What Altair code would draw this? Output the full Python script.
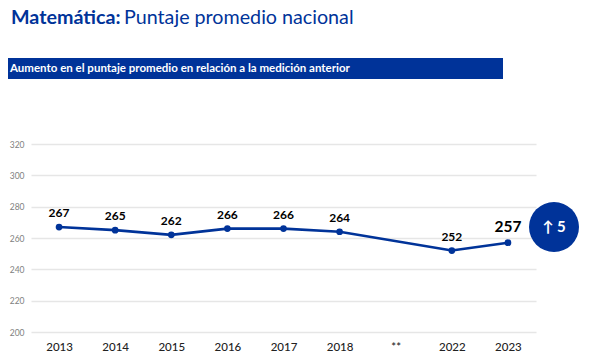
import altair as alt
import pandas as pd

years = ["2013", "2014", "2015", "2016", "2017", "2018", "**", "2022", "2023"]
scores = [267, 265, 262, 266, 266, 264, None, 252, 257]
highlight_year = "2023"
y_ticks = [200, 220, 240, 260, 280, 300, 320]
title_bold = "Matemática:"
title_rest = "Puntaje promedio nacional"
banner_text = "Aumento en el puntaje promedio en relación a la medición anterior"
badge_text = "↑  5"

BLUE = "#003399"
FONT = "Lato"

df = pd.DataFrame({"year": years, "score": scores}).dropna()

x = alt.X(
    "year:N",
    sort=years,
    scale=alt.Scale(domain=years, paddingInner=0, paddingOuter=0.0, align=0.5),
    axis=alt.Axis(
        title=None, labelAngle=0, domain=False, ticks=False, grid=False,
        labelFont=FONT, labelFontSize=11.5, labelColor="#222222",
        labelPadding=9, labelFontWeight=500,
    ),
)
y = alt.Y(
    "score:Q",
    scale=alt.Scale(domain=[200, 320], nice=False, zero=False),
    axis=alt.Axis(
        title=None, values=y_ticks, domain=False, ticks=False, grid=True,
        gridColor="#E6E6E6", gridWidth=1.3, labelFont=FONT, labelFontSize=8.5,
        labelColor="#7F7F7F", labelPadding=7,
    ),
)

base = alt.Chart(df)
line = base.mark_line(color=BLUE, strokeWidth=2.6).encode(x=x, y=y)
points = base.mark_point(filled=True, color=BLUE, size=45, opacity=1).encode(x=x, y=y)
labels = (
    base.transform_filter(alt.datum.year != highlight_year)
    .mark_text(font=FONT, fontSize=12, fontWeight="bold", color="#000000", dy=-14)
    .encode(x=x, y=y, text="score:Q")
)
label_hi = (
    base.transform_filter(alt.datum.year == highlight_year)
    .mark_text(font=FONT, fontSize=15.5, fontWeight="bold", color="#000000", dy=-16)
    .encode(x=x, y=y, text="score:Q")
)

one = pd.DataFrame({"a": [0]})
ann = alt.Chart(one)
t1 = ann.mark_text(font=FONT, fontSize=19.7, fontWeight="bold", color=BLUE, align="left", baseline="middle").encode(
    x=alt.value(-20), y=alt.value(-126), text=alt.value(title_bold))
t2 = ann.mark_text(font=FONT, fontSize=19.7, color=BLUE, align="left", baseline="middle").encode(
    x=alt.value(93), y=alt.value(-126), text=alt.value(title_rest))
banner = ann.mark_rect(color=BLUE).encode(
    x=alt.value(-27), x2=alt.value(472), y=alt.value(-86), y2=alt.value(-65))
banner_t = ann.mark_text(font=FONT, fontSize=11.5, fontWeight="bold", color="white", align="left", baseline="middle").encode(
    x=alt.value(-21), y=alt.value(-75), text=alt.value(banner_text))
badge = ann.mark_point(filled=True, color=BLUE, opacity=1, size=2500).encode(
    x=alt.value(523), y=alt.value(83))
badge_t = ann.mark_text(font=FONT, fontSize=15, fontWeight="bold", color="white", align="center", baseline="middle").encode(
    x=alt.value(523), y=alt.value(83), text=alt.value(badge_text))

chart = (
    alt.layer(line, points, labels, label_hi, banner, banner_t, t1, t2, badge, badge_t)
    .properties(
        width=505, height=188,
        autosize=alt.AutoSizeParams(type="none"),
        padding={"left": 23, "top": 136, "right": 45, "bottom": 24},
    )
    .configure_view(stroke=None)
)
chart.save("out.html", embed_options={"renderer": "svg", "actions": False})
